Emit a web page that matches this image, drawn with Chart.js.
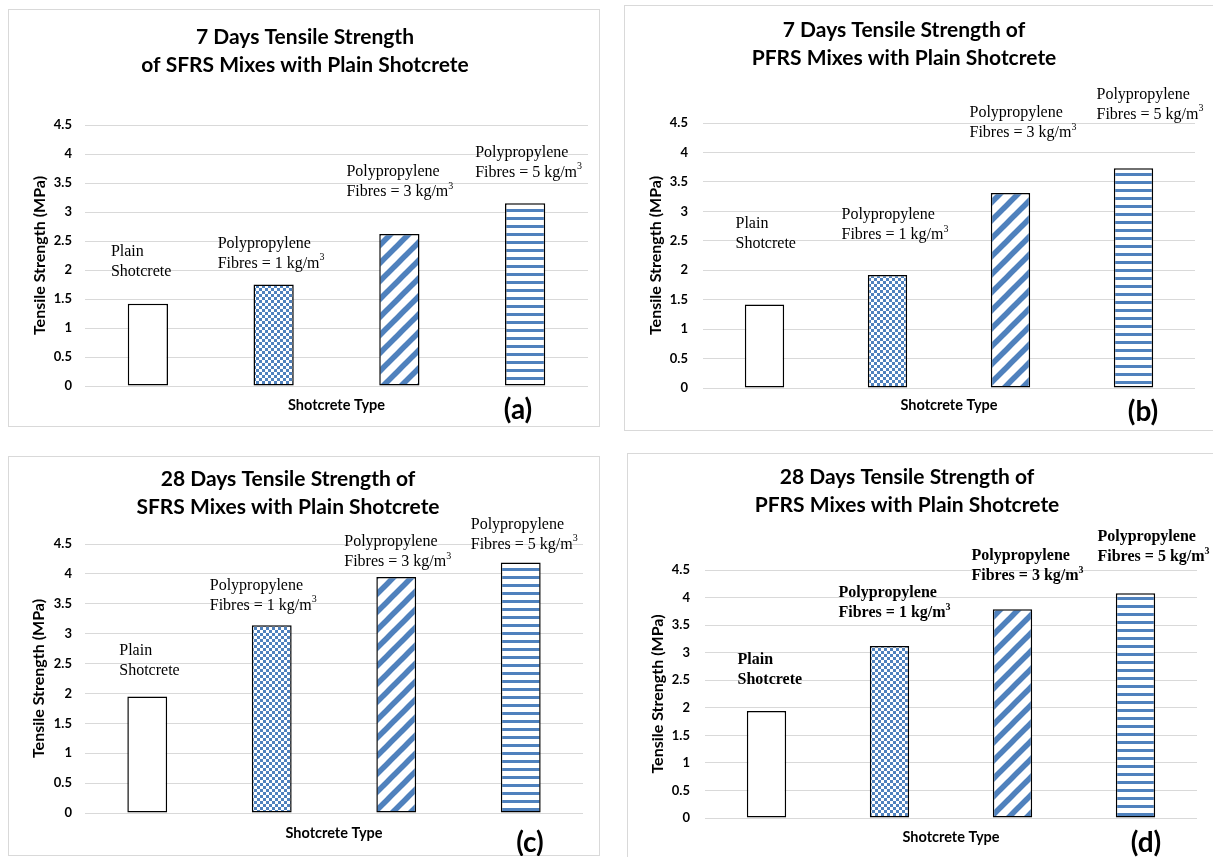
<!DOCTYPE html>
<html>
<head>
<meta charset="utf-8">
<script src="https://cdn.jsdelivr.net/npm/chart.js@4.4.1/dist/chart.umd.min.js"></script>
<style>
  html, body { margin: 0; padding: 0; background: #fff; width: 1213px; height: 857px; overflow: hidden; position: relative; }
  .frame { position: absolute; border: 1px solid #d9d9d9; box-sizing: border-box; }
  canvas { position: absolute; }
</style>
</head>
<body>
<script>
// ---------- DATA ----------
const categories = ['Plain Shotcrete', 'Polypropylene Fibres = 1 kg/m3', 'Polypropylene Fibres = 3 kg/m3', 'Polypropylene Fibres = 5 kg/m3'];
const labelLine1 = ['Plain', 'Polypropylene', 'Polypropylene', 'Polypropylene'];
const labelLine2 = ['Shotcrete', 'Fibres = 1 kg/m', 'Fibres = 3 kg/m', 'Fibres = 5 kg/m'];
const labelSup = ['', '3', '3', '3'];
const tensile7SFRS = [1.42, 1.75, 2.62, 3.15];
const tensile7PFRS = [1.42, 1.92, 3.31, 3.73];
const tensile28SFRS = [1.95, 3.14, 3.95, 4.19];
const tensile28PFRS = [1.94, 3.12, 3.79, 4.08];
const yTicks = [0, 0.5, 1, 1.5, 2, 2.5, 3, 3.5, 4, 4.5];
const titles = [
  ['7 Days Tensile Strength', 'of SFRS Mixes with Plain Shotcrete'],
  ['7 Days Tensile Strength of', 'PFRS Mixes with Plain Shotcrete'],
  ['28 Days Tensile Strength of', 'SFRS Mixes with Plain Shotcrete'],
  ['28 Days Tensile Strength of', 'PFRS Mixes with Plain Shotcrete']
];
const tags = ['(a)', '(b)', '(c)', '(d)'];
const yTitle = 'Tensile Strength (MPa)';
const xTitle = 'Shotcrete Type';

// ---------- LAYOUT / STYLE ----------
const BLUE = '#4F81BD';
const panels = [
  { values: tensile7SFRS, canvas: {l: 22, t: 9, w: 594, h: 418}, frame: {l: 8, t: 9, r: 600, b: 427},
    tPadTop: 14, tPadBot: 46, yW: 63, padR: 28, xPad: {top: 10.3, bottom: 13.3}, yTitlePad: 8.4, tickPad: 13,
    tag: [518, 410], offs: [[-37, -52], [-56, -41], [-53, -62], [-50, -51]], bold: false },
  { values: tensile7PFRS, canvas: {l: 613, t: 5, w: 600, h: 426}, frame: {l: 624, t: 5, r: 1240, b: 431},
    tPadTop: 11, tPadBot: 51, yW: 90, padR: 18, xPad: {top: 8.3, bottom: 17.3}, yTitlePad: 33.4, tickPad: 15,
    tag: [1143, 412], offs: [[-29, -81], [-46, -60], [-41, -80], [-37, -74]], bold: false },
  { values: tensile28SFRS, canvas: {l: -7, t: 456, w: 600, h: 400}, frame: {l: 8, t: 456, r: 600, b: 856},
    tPadTop: 9, tPadBot: 23, yW: 92, padR: 10, xPad: {top: 11.3, bottom: 14.3}, yTitlePad: 36.4, tickPad: 13,
    tag: [530, 843], offs: [[-28, -46], [-62, -40], [-52, -35], [-50, -38]], bold: false },
  { values: tensile28PFRS, canvas: {l: 617, t: 453, w: 596, h: 404}, frame: {l: 627, t: 453, r: 1240, b: 880},
    tPadTop: 10, tPadBot: 51, yW: 88, padR: 16, xPad: {top: 10.3, bottom: 11.3}, yTitlePad: 31.4, tickPad: 15,
    tag: [1146, 843], offs: [[-29, -51], [-51, -53], [-41, -53], [-38, -56]], bold: true }
];

function makePattern(w, h, draw) {
  const c = document.createElement('canvas');
  c.width = w; c.height = h;
  const x = c.getContext('2d');
  x.fillStyle = '#fff'; x.fillRect(0, 0, w, h);
  draw(x);
  return x.createPattern(c, 'repeat');
}
const checker = makePattern(6, 6, x => { x.fillStyle = BLUE; x.fillRect(0, 0, 3, 3); x.fillRect(3, 3, 3, 3); });
const diagonal = makePattern(18, 18, x => {
  x.strokeStyle = BLUE; x.lineWidth = 5.5;
  [-18, 0, 18].forEach(x0 => { x.beginPath(); x.moveTo(x0 - 6, 24); x.lineTo(x0 + 24, -6); x.stroke(); });
});
const horiz = makePattern(4, 8, x => { x.fillStyle = BLUE; x.fillRect(0, 0, 4, 3); });
const fills = ['#ffffff', checker, diagonal, horiz];

Chart.defaults.font.family = 'Lato, "Open Sans", sans-serif';
Chart.defaults.color = '#000';

const textPlugin = {
  id: 'panelText',
  afterDatasetsDraw(chart, args, opts) {
    const ctx = chart.ctx;
    const meta = chart.getDatasetMeta(0);
    const p = opts.panel;
    const w = p.bold ? 'bold ' : '';
    ctx.save();
    ctx.fillStyle = '#000';
    ctx.textBaseline = 'middle';
    ctx.textAlign = 'left';
    meta.data.forEach((bar, i) => {
      const x = bar.x + p.offs[i][0];
      const y = bar.y + p.offs[i][1];
      ctx.font = w + '16px "Liberation Serif", "Times New Roman", serif';
      ctx.fillText(labelLine1[i], x, y);
      ctx.fillText(labelLine2[i], x, y + 20);
      if (labelSup[i]) {
        const tw = ctx.measureText(labelLine2[i]).width;
        ctx.font = w + '10px "Liberation Serif", "Times New Roman", serif';
        ctx.fillText(labelSup[i], x + tw, y + 14);
      }
    });
    ctx.textAlign = 'center';
    ctx.font = 'bold 28px Lato, sans-serif';
    ctx.fillText(opts.tag, p.tag[0] - p.canvas.l, p.tag[1] - p.canvas.t);
    ctx.restore();
  }
};

panels.forEach((p, k) => {
  const fr = document.createElement('div');
  fr.className = 'frame';
  fr.style.left = p.frame.l + 'px'; fr.style.top = p.frame.t + 'px';
  fr.style.width = (p.frame.r - p.frame.l) + 'px'; fr.style.height = (p.frame.b - p.frame.t) + 'px';
  document.body.appendChild(fr);

  const cv = document.createElement('canvas');
  cv.width = p.canvas.w; cv.height = p.canvas.h;
  cv.style.left = p.canvas.l + 'px'; cv.style.top = p.canvas.t + 'px';
  cv.style.width = p.canvas.w + 'px'; cv.style.height = p.canvas.h + 'px';
  document.body.appendChild(cv);

  new Chart(cv, {
    type: 'bar',
    data: {
      labels: categories,
      datasets: [{
        data: p.values,
        backgroundColor: fills,
        borderColor: '#000',
        borderWidth: 1.5,
        borderSkipped: false,
        barPercentage: 0.32,
        categoryPercentage: 1
      }]
    },
    options: {
      responsive: false,
      animation: false,
      devicePixelRatio: 1,
      layout: { padding: { left: 0, right: p.padR, top: 0, bottom: 0 } },
      plugins: {
        legend: { display: false },
        tooltip: { enabled: false },
        title: {
          display: true,
          text: titles[k],
          font: { size: 21, weight: 'bold', lineHeight: 28 / 21 },
          padding: { top: p.tPadTop, bottom: p.tPadBot },
          color: '#000'
        },
        panelText: { panel: p, tag: tags[k] }
      },
      scales: {
        x: {
          grid: { display: false, drawTicks: false },
          border: { display: false },
          ticks: { display: false },
          title: { display: true, text: xTitle, font: { size: 14.5, weight: 'bold', lineHeight: 1.2 }, padding: p.xPad, color: '#000' }
        },
        y: {
          min: 0, max: 4.5,
          afterBuildTicks: s => { s.ticks = yTicks.map(v => ({ value: v })); },
          afterFit: s => { s.width = p.yW; },
          grid: { color: '#d9d9d9', lineWidth: 1, drawTicks: false },
          border: { display: false },
          ticks: { padding: p.tickPad, font: { size: 13, weight: 'bold' }, color: '#000', callback: v => String(v) },
          title: { display: true, text: yTitle, font: { size: 16, weight: 'bold', lineHeight: 1.2 }, padding: { top: p.yTitlePad, bottom: 0 }, color: '#000' }
        }
      }
    },
    plugins: [textPlugin]
  });
});
</script>
</body>
</html>
